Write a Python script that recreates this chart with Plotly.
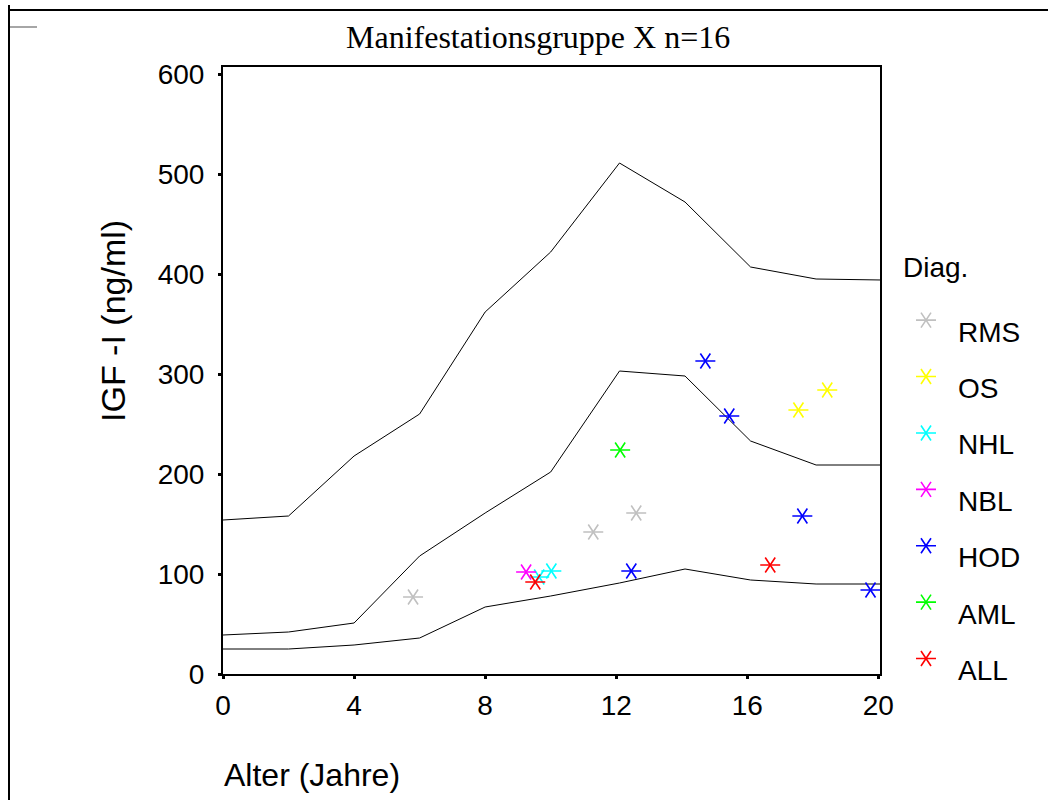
import plotly.graph_objects as go

# ---------------- data ----------------
ref_ages = [0, 2, 4, 6, 8, 10, 12.1, 14.1, 16.1, 18.1, 20.1]
ref_high = [154, 158, 218, 260, 362, 422, 511, 472, 407, 395, 394]
ref_mid = [39, 42, 51, 118, 161, 202, 303, 298, 233, 209, 209]
ref_low = [25, 25, 29, 36, 67, 78, 91, 105, 94, 90, 90]

categories = ["RMS", "OS", "NHL", "NBL", "HOD", "AML", "ALL"]
colors = ["#C0C0C0", "#FFFF00", "#00FFFF", "#FF00FF", "#0000FF", "#00FF00", "#FF0000"]

rms_age = [5.80, 11.30, 12.61]
rms_igf = [77, 142, 161]
os_age = [17.56, 18.44]
os_igf = [264, 284]
nhl_age = [9.65, 10.02]
nhl_igf = [97, 103]
nbl_age = [9.25]
nbl_igf = [102]
hod_age = [12.46, 14.72, 15.45, 17.68, 19.76]
hod_igf = [103, 313, 258, 158, 84]
aml_age = [12.12]
aml_igf = [224]
all_age = [9.53, 16.70]
all_igf = [92, 109]

x_ticks = [0, 4, 8, 12, 16, 20]
y_ticks = [0, 100, 200, 300, 400, 500, 600]

title_text = "Manifestationsgruppe X n=16"
x_title = "Alter (Jahre)"
y_title = "IGF -I (ng/ml)"
legend_title = "Diag."

series_age = [rms_age, os_age, nhl_age, nbl_age, hod_age, aml_age, all_age]
series_igf = [rms_igf, os_igf, nhl_igf, nbl_igf, hod_igf, aml_igf, all_igf]

# ---------------- layout constants (pixels) ----------------
W, H = 1048, 800
PL, PR, PT, PB = 223, 880, 67, 674
SANS = "Liberation Sans, Arial, sans-serif"
SERIF = "Liberation Serif, Times New Roman, serif"

def px_x(p):
    return p / W

def px_y(p):
    return (H - p) / H

LEG_MARK_X = 926
LEG_TEXT_X = 956
LEG_TITLE_X = 901
LEG_Y0 = 332
LEG_STEP = 56.4
LEG_MARK_DY = -0.21
LEG_TITLE_I = -1.15

MSIZE = 12.5
MLW = 1.6

fig = go.Figure()

for yy in (ref_high, ref_mid, ref_low):
    fig.add_trace(go.Scatter(x=ref_ages, y=yy, mode="lines",
                             line=dict(color="black", width=1),
                             hoverinfo="skip", showlegend=False))

def add_star(xs, ys, col, xaxis="x", yaxis="y"):
    for sym in ("y-left-open", "y-right-open"):
        fig.add_trace(go.Scatter(
            x=xs, y=ys, mode="markers", xaxis=xaxis, yaxis=yaxis,
            marker=dict(symbol=sym, size=MSIZE, color=col,
                        line=dict(color=col, width=MLW)),
            showlegend=False, cliponaxis=False))

for xs, ys, col in zip(series_age, series_igf, colors):
    add_star(xs, ys, col)

# legend glyphs on an overlay axis (x in pixels, y in entry index)
for i, (cat, col) in enumerate(zip(categories, colors)):
    add_star([LEG_MARK_X], [i + LEG_MARK_DY], col, "x2", "y2")

annotations = []
for i, cat in enumerate(categories):
    annotations.append(dict(x=LEG_TEXT_X, y=i, xref="x2", yref="y2", text=cat,
                            showarrow=False, xanchor="left", yanchor="middle",
                            font=dict(family=SANS, size=28, color="black")))
annotations.append(dict(x=LEG_TITLE_X, y=LEG_TITLE_I, xref="x2", yref="y2", text=legend_title,
                        showarrow=False, xanchor="left", yanchor="middle",
                        font=dict(family=SANS, size=28, color="black")))
annotations.append(dict(x=px_x(538), y=px_y(37), xref="paper", yref="paper", text=title_text,
                        showarrow=False, xanchor="center", yanchor="middle",
                        font=dict(family=SERIF, size=32, color="black")))
annotations.append(dict(x=px_x(222), y=px_y(775), xref="paper", yref="paper", text=x_title,
                        showarrow=False, xanchor="left", yanchor="middle",
                        font=dict(family=SANS, size=32, color="black")))
annotations.append(dict(x=px_x(113), y=px_y(321), xref="paper", yref="paper", text=y_title,
                        showarrow=False, xanchor="center", yanchor="middle", textangle=-90,
                        font=dict(family=SANS, size=34, color="black")))

shapes = [
    dict(type="line", xref="paper", yref="paper", x0=px_x(9), x1=1, y0=px_y(10), y1=px_y(10),
         line=dict(color="black", width=2)),
    dict(type="line", xref="paper", yref="paper", x0=px_x(9), x1=px_x(9), y0=px_y(5), y1=0,
         line=dict(color="black", width=2)),
    dict(type="line", xref="paper", yref="paper", x0=px_x(10), x1=px_x(37), y0=px_y(27), y1=px_y(27),
         line=dict(color="#888888", width=1.5)),
]

leg_range_y = [(H - LEG_Y0) / LEG_STEP, (0 - LEG_Y0) / LEG_STEP]

fig.update_layout(
    width=W, height=H,
    margin=dict(l=0, r=0, t=0, b=0, autoexpand=False),
    paper_bgcolor="white", plot_bgcolor="rgba(0,0,0,0)",
    showlegend=False,
    xaxis=dict(domain=[PL / W, PR / W], range=[0, 20.05], tickvals=x_ticks,
               ticks="outside", ticklen=3, tickwidth=3, tickcolor="black",
               showline=True, linewidth=2, linecolor="black", mirror=True,
               showgrid=False, zeroline=False, ticklabelstandoff=2,
               tickfont=dict(family=SANS, size=28, color="black"), anchor="y"),
    yaxis=dict(domain=[(H - PB) / H, (H - PT) / H], range=[0, 607], tickvals=y_ticks,
               ticks="outside", ticklen=3, tickwidth=3, tickcolor="black",
               showline=True, linewidth=2, linecolor="black", mirror=True,
               showgrid=False, zeroline=False, ticklabelstandoff=8,
               tickfont=dict(family=SANS, size=28, color="black"), anchor="x"),
    xaxis2=dict(domain=[0, 1], range=[0, W], visible=False, anchor="y2"),
    yaxis2=dict(domain=[0, 1], range=leg_range_y, visible=False, anchor="x2"),
    annotations=annotations,
    shapes=shapes,
)

fig.write_html("out.html")
